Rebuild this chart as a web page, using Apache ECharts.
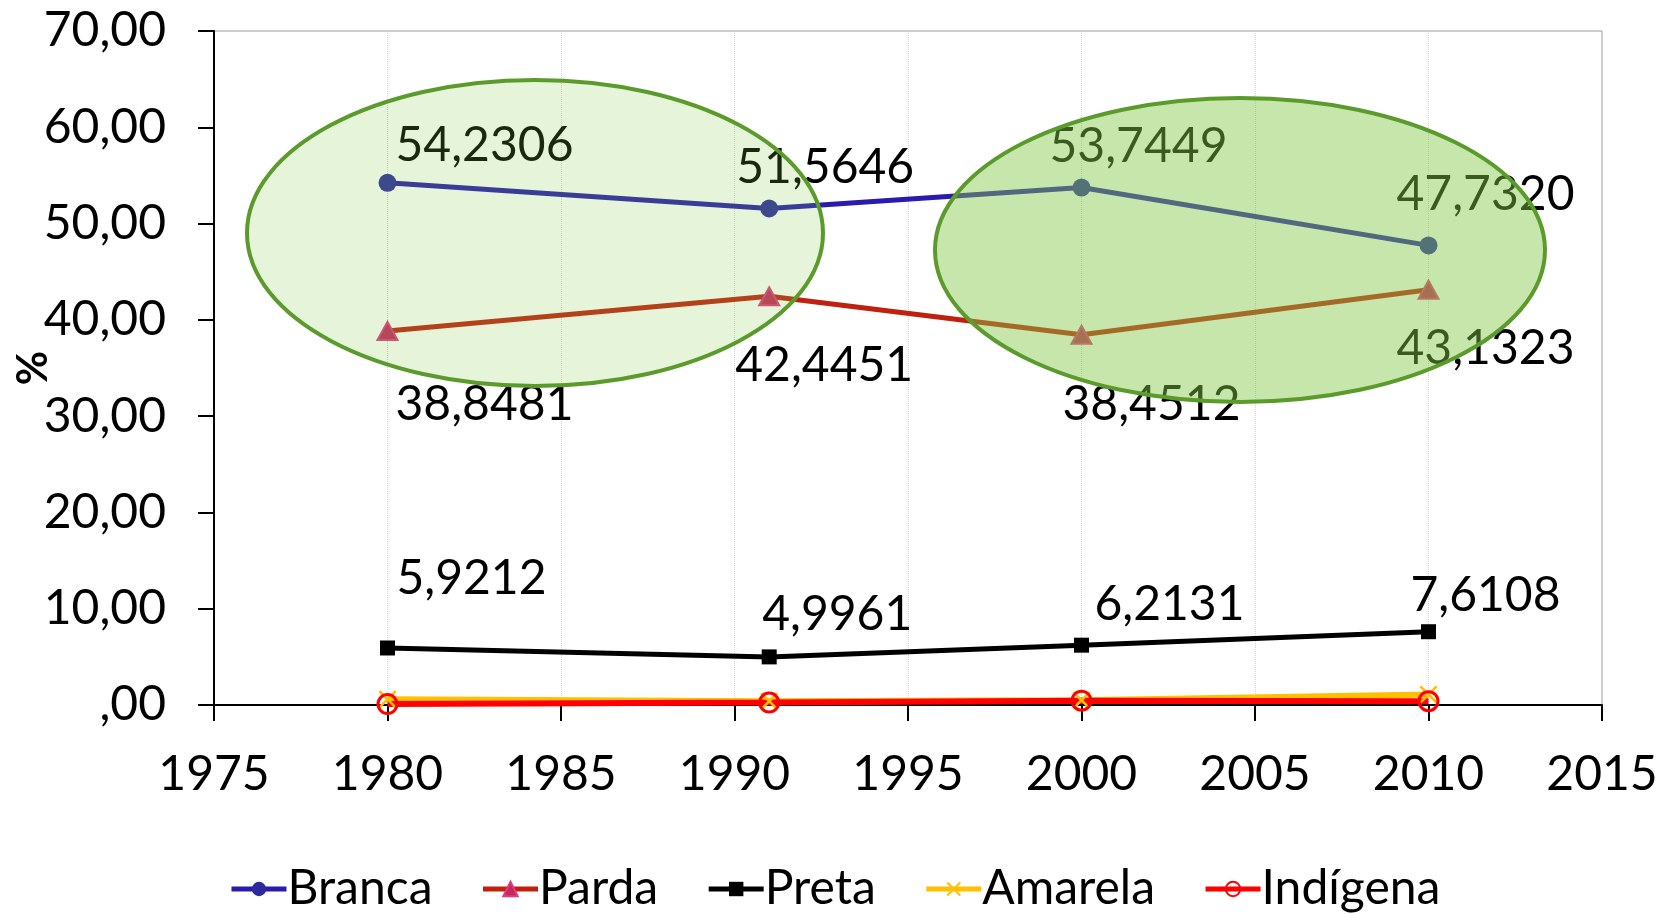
<!DOCTYPE html>
<html>
<head>
<meta charset="utf-8">
<script src="https://cdn.jsdelivr.net/npm/echarts@6/dist/echarts.min.js"></script>
<style>
html, body { margin: 0; padding: 0; background: #fff; }
#chart { width: 1659px; height: 914px; }
</style>
</head>
<body>
<div id="chart"></div>
<script>
// data
var years = [1980, 1991, 2000, 2010];
var branca = [54.2306, 51.5646, 53.7449, 47.7320];
var parda = [38.8481, 42.4451, 38.4512, 43.1323];
var preta = [5.9212, 4.9961, 6.2131, 7.6108];
var amarela = [0.6, 0.4, 0.5, 1.1];
var indigena = [0.1, 0.25, 0.45, 0.4];

// label placement (px, relative to the point)
var brancaOffsets = [[97, -37], [56, -41], [57, -41], [57, -51]];
var pardaOffsets = [[97, 74], [55, 69], [70, 70], [57, 59]];
var pretaOffsets = [[84, -69], [68, -42], [88, -41], [57, -36]];

var FONT = 'Lato';
var xMark = 'path://M0,1L1,0L5,4L9,0L10,1L6,5L10,9L9,10L5,6L1,10L0,9L4,5Z';

function points(values, offsets) {
  return values.map(function (v, i) {
    var d = { value: [years[i], v] };
    if (offsets) d.label = { offset: offsets[i] };
    return d;
  });
}

function fmt4(p) {
  return p.value[1].toFixed(4).replace('.', ',');
}

var labelStyle = {
  show: true,
  position: 'inside',
  formatter: fmt4,
  fontFamily: FONT,
  fontSize: 48,
  color: '#000'
};

var chart = echarts.init(document.getElementById('chart'));

var option = {
  animation: false,
  backgroundColor: '#fff',
  grid: {
    left: 214,
    right: 57,
    top: 31,
    bottom: 209,
    containLabel: false,
    outerBoundsMode: 'none',
    show: true,
    borderColor: '#9a9a9a',
    borderWidth: 1
  },
  legend: {
    top: 860,
    left: 224,
    itemWidth: 55,
    itemHeight: 18,
    itemGap: 48,
    lineStyle: { width: 5 },
    textStyle: { fontFamily: FONT, fontSize: 48, color: '#000', padding: [0, 0, 0, -4] },
    data: ['Branca', 'Parda', 'Preta', 'Amarela', 'Indígena']
  },
  xAxis: {
    type: 'value',
    min: 1975,
    max: 2015,
    interval: 5,
    axisLine: { lineStyle: { color: '#000', width: 2 } },
    axisTick: { show: true, length: 16, lineStyle: { color: '#000', width: 2 } },
    axisLabel: {
      margin: 46,
      fontFamily: FONT,
      fontSize: 48,
      color: '#000',
      formatter: function (v) { return String(v); }
    },
    splitLine: { show: true, lineStyle: { color: '#d4d4d4', type: 'dotted', width: 1 } }
  },
  yAxis: {
    type: 'value',
    min: 0,
    max: 70,
    interval: 10,
    name: '%',
    nameLocation: 'middle',
    nameRotate: 90,
    nameGap: 160,
    nameMoveOverlap: false,
    nameTextStyle: { fontFamily: FONT, fontSize: 42, fontWeight: 'bold', color: '#000' },
    axisLine: { show: true, lineStyle: { color: '#000', width: 2 } },
    axisTick: { show: true, length: 16, lineStyle: { color: '#000', width: 2 } },
    axisLabel: {
      margin: 48,
      fontFamily: FONT,
      fontSize: 48,
      color: '#000',
      formatter: function (v) {
        return v === 0 ? ',00' : v.toFixed(2).replace('.', ',');
      }
    },
    splitLine: { show: false }
  },
  series: [
    {
      name: 'Branca',
      type: 'line',
      data: points(branca, brancaOffsets),
      symbol: 'circle',
      symbolSize: 18,
      lineStyle: { color: '#2a1aad', width: 5 },
      itemStyle: { color: '#2e2a9e' },
      label: labelStyle
    },
    {
      name: 'Parda',
      type: 'line',
      data: points(parda, pardaOffsets),
      symbol: 'triangle',
      symbolSize: [20, 18],
      lineStyle: { color: '#c0200e', width: 5 },
      itemStyle: { color: '#c2285e', borderColor: '#e23a7c', borderWidth: 2 },
      label: labelStyle
    },
    {
      name: 'Preta',
      type: 'line',
      data: points(preta, pretaOffsets),
      symbol: 'rect',
      symbolSize: 15,
      lineStyle: { color: '#000', width: 5 },
      itemStyle: { color: '#000' },
      label: labelStyle
    },
    {
      name: 'Amarela',
      type: 'line',
      data: points(amarela),
      symbol: xMark,
      symbolSize: 18,
      lineStyle: { color: '#ffc000', width: 6 },
      itemStyle: { color: '#ffc000' }
    },
    {
      name: 'Indígena',
      type: 'line',
      data: points(indigena),
      symbol: 'circle',
      symbolSize: 19,
      lineStyle: { color: '#ff0000', width: 6 },
      itemStyle: { color: 'rgba(255,255,255,0)', borderColor: '#ff0000', borderWidth: 3 }
    }
  ],
  graphic: [
    {
      type: 'ellipse',
      z: 100,
      shape: { cx: 535, cy: 233, rx: 288, ry: 153 },
      style: { fill: 'rgba(130,200,70,0.2)', stroke: '#5b9b2b', lineWidth: 4 }
    },
    {
      type: 'ellipse',
      z: 100,
      shape: { cx: 1240, cy: 250, rx: 305, ry: 152 },
      style: { fill: 'rgba(130,200,70,0.45)', stroke: '#5b9b2b', lineWidth: 4 }
    }
  ]
};

chart.setOption(option);
</script>
</body>
</html>
